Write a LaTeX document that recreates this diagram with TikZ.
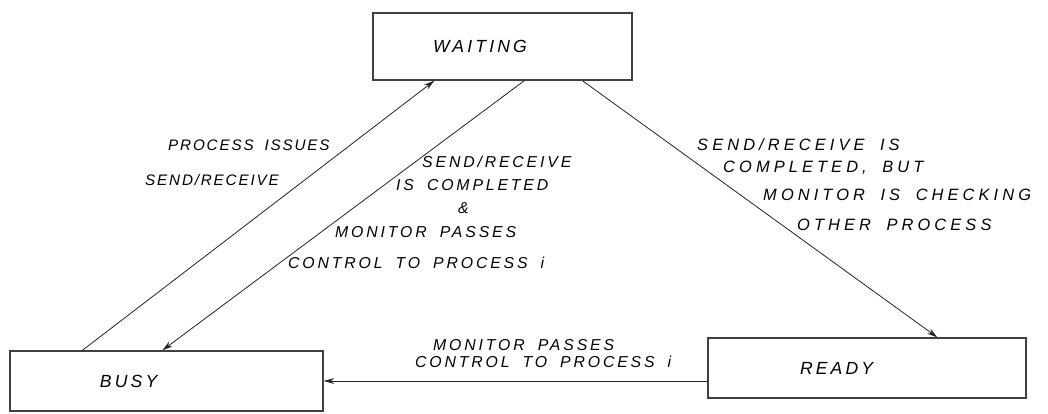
\documentclass[tikz,border=0pt]{standalone}
\usepackage{fontspec}
\setmainfont{Liberation Sans}[LetterSpace=18,WordSpace=1.8]
\usetikzlibrary{arrows.meta,positioning}

\begin{document}
\begin{tikzpicture}[x=0.03cm,y=-0.03cm,
  state/.style={draw=black!75,line width=1.1pt,inner xsep=#1,
                minimum height=1.8cm,align=left,
                font=\itshape\fontsize{15}{17}\selectfont},
  note/.style={anchor=west,inner sep=0pt,
               font=\itshape\fontsize{13.5}{15}\selectfont},
  narrow/.style={note,font=\itshape\fontsize{13}{15}\selectfont\addfontfeature{LetterSpace=12}},
  wide/.style={note,font=\itshape\fontsize{14}{15}\selectfont\addfontfeature{LetterSpace=25}},
  flow/.style={-{Stealth[length=9pt,width=5pt]},line width=0.7pt,black!85}]
  \useasboundingbox (0,0) rectangle (1048,413);
  % states
  \node[state=1.8cm,text width=4.17cm,minimum height=2.01cm] (waiting) at (502.5,46.5) {WAITING};
  \node[state=2.7cm,text width=3.99cm] (busy) at (166.5,381) {BUSY};
  \node[state=2.76cm,text width=4.02cm] (ready) at (867,368) {READY};
  % transitions
  \draw[flow] ([xshift=2.19cm]busy.north west) -- ([xshift=1.86cm]waiting.south west);
  \draw[flow] ([xshift=4.56cm]waiting.south west) -- ([xshift=4.59cm]busy.north west);
  \draw[flow] ([xshift=6.3cm]waiting.south west) -- ([xshift=6.9cm]ready.north west);
  \draw[flow] (busy.east -| ready.west) -- (busy.east);
  % labels
  \node[narrow] (iss1) at (168,145) {PROCESS ISSUES};
  \node[narrow] (iss2) at (145,180) {SEND/RECEIVE};
  \node[note] (cmp1) at (422,162) {SEND/RECEIVE};
  \node[note] (cmp2) at (396,185) {IS COMPLETED};
  \node[note] (cmp3) at (458,208) {\&};
  \node[note] (cmp4) at (335,232) {MONITOR PASSES};
  \node[note] (cmp5) at (288,263) {CONTROL TO PROCESS \textit{i}};
  \node[wide] (chk1) at (697,145) {SEND/RECEIVE IS};
  \node[wide] (chk2) at (723,168) {COMPLETED, BUT};
  \node[wide] (chk3) at (763,195) {MONITOR IS CHECKING};
  \node[wide] (chk4) at (797,225) {OTHER PROCESS};
  \node[note] (pas1) at (433,345) {MONITOR PASSES};
  \node[note] (pas2) at (415,362) {CONTROL TO PROCESS \textit{i}};
\end{tikzpicture}
\end{document}
